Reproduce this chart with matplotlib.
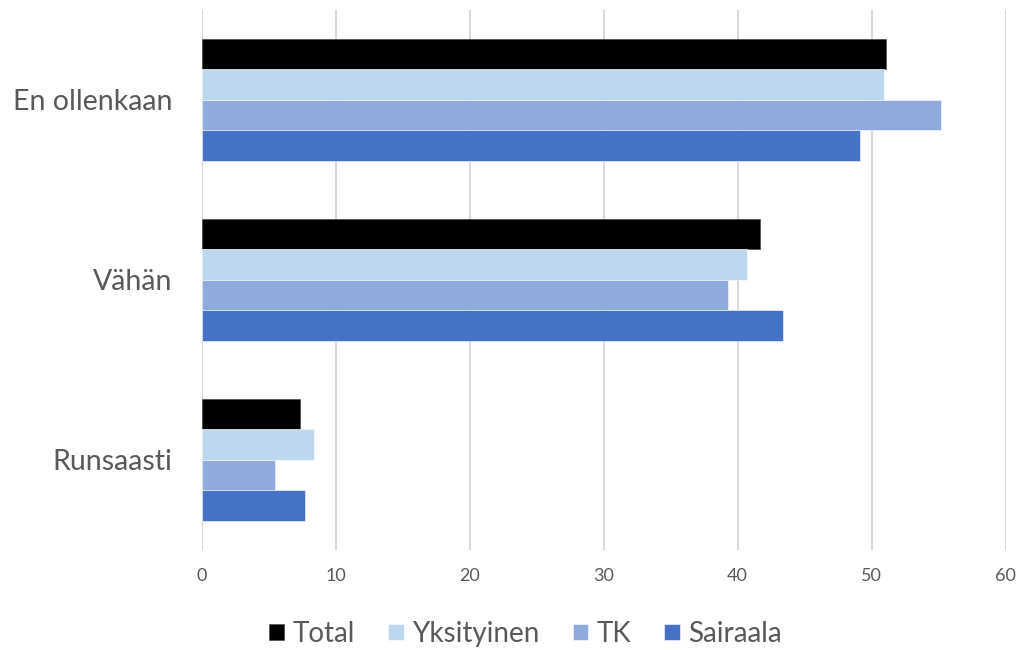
import matplotlib as mpl
import matplotlib.pyplot as plt
import numpy as np

mpl.use("Agg")

plt.rcParams["font.family"] = ["Lato", "DejaVu Sans"]

categories = ["En ollenkaan", "Vähän", "Runsaasti"]
series_names = ["Total", "Yksityinen", "TK", "Sairaala"]
total = [51.1, 41.7, 7.3]
yksityinen = [50.9, 40.7, 8.4]
tk = [55.2, 39.3, 5.5]
sairaala = [49.1, 43.4, 7.7]
xticks = [0, 10, 20, 30, 40, 50, 60]

colors = ["#000000", "#BDD7EE", "#8FAADC", "#4472C4"]
values = [total, yksityinen, tk, sairaala]

fig = plt.figure(figsize=(10.24, 6.5), dpi=100)
ax = fig.add_axes([0.197, 0.154, 0.785, 0.831])

y = np.arange(len(categories))
bar_h = 0.17
for i, (name, vals, c) in enumerate(zip(series_names, values, colors)):
    offset = (i - 1.5) * bar_h
    ax.barh(y + offset, vals, height=bar_h, color=c, label=name, zorder=2,
            edgecolor="white" if i else "#404040", linewidth=0.4)

ax.set_ylim(len(categories) - 0.5, -0.5)
ax.set_xlim(0, 60)
ax.set_xticks(xticks)
ax.set_yticks(y)
ax.set_yticklabels(categories, fontsize=20.5, color="#595959")
ax.tick_params(axis="x", labelsize=13, colors="#595959", length=0, pad=13)
ax.tick_params(axis="y", length=0, pad=21)
ax.grid(axis="x", color="#D9D9D9", linewidth=1.5, zorder=0)
for s in ax.spines.values():
    s.set_visible(False)

handles, labels = ax.get_legend_handles_labels()
fig.legend(handles, labels, loc="center", bbox_to_anchor=(0.513, 0.025),
           ncol=4, frameon=False, fontsize=20, handlelength=0.55,
           handleheight=0.55, columnspacing=1.2, handletextpad=0.3,
           labelcolor="#595959")

fig.savefig("out.png", dpi=100)
